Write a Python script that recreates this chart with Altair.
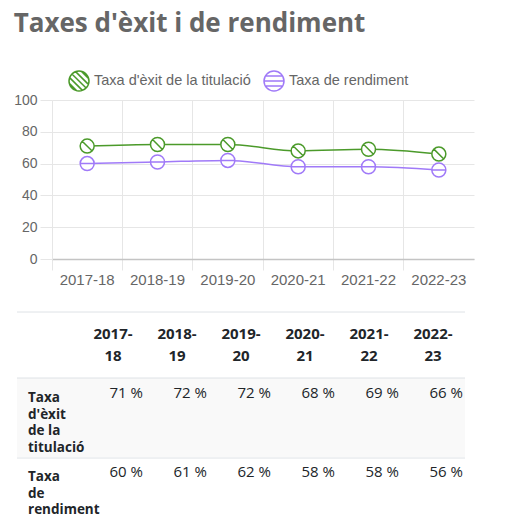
import math
import altair as alt
import pandas as pd

# ---------------- data ----------------
years = ["2017-18", "2018-19", "2019-20", "2020-21", "2021-22", "2022-23"]
exit_rate = [71, 72, 72, 68, 69, 66]
perf_rate = [60, 61, 62, 58, 58, 56]
series = ["Taxa d'èxit de la titulació", "Taxa de rendiment"]
row_labels = ["Taxa\nd'èxit\nde la\ntitulació", "Taxa\nde\nrendiment"]
colors = ["#4b9a2a", "#a07af8"]
title_text = "Taxes d'èxit i de rendiment"

records = []
for s, vals in zip(series, [exit_rate, perf_rate]):
    for yv, v in zip(years, vals):
        records.append({"serie": s, "curs": yv, "valor": v})
df = pd.DataFrame(records)

# ---------------- symbol shapes (hatched circles) ----------------
CIRCLE = "M 1 0 A 1 1 0 1 1 -1 0 A 1 1 0 1 1 1 0 Z"


def diag(cs):
    p = ""
    for c in cs:
        d = math.sqrt(2 - c * c)
        x1 = (-c - d) / 2
        x2 = (-c + d) / 2
        p += f" M {x1:.3f} {x1 + c:.3f} L {x2:.3f} {x2 + c:.3f}"
    return p


def horiz(ys):
    p = ""
    for yy in ys:
        h = math.sqrt(1 - yy * yy)
        p += f" M {-h:.3f} {yy:.3f} L {h:.3f} {yy:.3f}"
    return p


point_paths = [CIRCLE + diag([0]), CIRCLE + horiz([0])]
legend_paths = [CIRCLE + diag([-1.2, -0.6, 0, 0.6, 1.2]), CIRCLE + horiz([-0.5, 0, 0.5])]

AXFONT = "Liberation Sans"
GRID = "#e6e6e6"
W, H = 422, 159

x_enc = alt.X(
    "curs:N",
    sort=years,
    scale=alt.Scale(type="band", domain=years, paddingInner=0, paddingOuter=0),
    axis=alt.Axis(
        title=None, bandPosition=0, grid=True, gridColor=GRID,
        tickColor=GRID, tickSize=11, domainColor="#c4c4c4", domainWidth=1.5,
        labelFont=AXFONT, labelFontSize=15, labelColor="#666", labelPadding=2,
        labelAngle=0,
    ),
)
y_enc = alt.Y(
    "valor:Q",
    scale=alt.Scale(domain=[0, 100]),
    axis=alt.Axis(
        title=None, values=[0, 20, 40, 60, 80, 100], gridColor=GRID, tickColor=GRID,
        tickSize=12, domainColor=GRID, labelFont=AXFONT, labelFontSize=14,
        labelColor="#666", labelPadding=3,
    ),
)
color_scale = alt.Scale(domain=series, range=colors)

base = alt.Chart(df)
lines = base.mark_line(strokeWidth=1.5, interpolate="monotone").encode(
    x=x_enc, y=y_enc, color=alt.Color("serie:N", scale=color_scale, legend=None)
)
points = base.mark_point(filled=False, fill="white", size=196, strokeWidth=1.5, opacity=1).encode(
    x=x_enc, y=y_enc,
    color=alt.Color("serie:N", scale=color_scale, legend=None),
    shape=alt.Shape("serie:N", scale=alt.Scale(domain=series, range=point_paths), legend=None),
)
leg = alt.Legend(
    title=None, orient="none", legendX=16, legendY=-30, direction="horizontal",
    labelFont=AXFONT, labelFontSize=14.5, labelColor="#666", symbolSize=400,
    symbolStrokeWidth=1.5, labelOffset=4, columnPadding=10, symbolOpacity=1,
    labelLimit=400,
)
legend_layer = base.mark_point(filled=False, opacity=0, size=400, strokeWidth=1.5).encode(
    x=x_enc, y=y_enc,
    color=alt.Color("serie:N", scale=color_scale, legend=leg),
    shape=alt.Shape("serie:N", scale=alt.Scale(domain=series, range=legend_paths), legend=leg),
)
line_chart = alt.layer(lines, points, legend_layer).resolve_scale(
    shape="independent", color="independent"
).properties(width=W, height=H)

# ---------------- table ----------------
# table panel shares the left origin of the plot area above (x = 0 at plot's left edge)
TFONT = "Open Sans"
TL, TR = -35, 413
xs = alt.X("curs:N", sort=years,
           scale=alt.Scale(type="point", domain=years, range=[91, 411], padding=0),
           axis=None)
one = pd.DataFrame({"k": [0]})


def border():
    return alt.Chart(one).mark_rule(color="#dee2e6", strokeWidth=1).encode(
        x=alt.value(TL), x2=alt.value(TR), y=alt.value(0))


head_df = pd.DataFrame({"curs": years, "head": [y.replace("-", "-\n") for y in years]})
header = alt.layer(
    border(),
    alt.Chart(head_df).mark_text(
        font=TFONT, fontSize=15, fontWeight="bold", lineBreak="\n", lineHeight=22,
        align="center", baseline="top", dx=-30, color="#212529",
    ).encode(x=xs, y=alt.value(15), text="head:N"),
).properties(width=TR, height=65)


def table_row(idx, h, shaded, vy, ly):
    sub = df[df["serie"] == series[idx]]
    layers = []
    if shaded:
        layers.append(alt.Chart(one).mark_rect(color="#f9f9f9").encode(
            x=alt.value(TL), x2=alt.value(TR), y=alt.value(0), y2=alt.value(h)))
    layers.append(border())
    layers.append(alt.Chart(sub).transform_calculate(txt="datum.valor + ' %'").mark_text(
        font=TFONT, fontSize=15, align="right", baseline="top", color="#212529",
    ).encode(x=xs, y=alt.value(vy), text="txt:N"))
    layers.append(alt.Chart(pd.DataFrame({"lab": [row_labels[idx]]})).mark_text(
        font=TFONT, fontSize=13.5, fontWeight="bold", lineBreak="\n", lineHeight=16.7,
        align="left", baseline="top", color="#212529",
    ).encode(x=alt.value(-24), y=alt.value(ly), text="lab:N"))
    return alt.layer(*layers).properties(width=TR, height=h)


table = alt.vconcat(header, table_row(0, 79, True, 8, 13), table_row(1, 66, False, 7, 12), spacing=0)

chart = alt.vconcat(line_chart, table, spacing=24).properties(
    title=alt.Title(title_text, anchor="start", font=TFONT, fontSize=26, fontWeight="bold",
                    color="#666", offset=33),
    padding={"left": 5, "top": 3, "right": 5, "bottom": 0},
).configure_view(stroke=None)

chart.save("out.html", embed_options={"renderer": "svg", "actions": False})
